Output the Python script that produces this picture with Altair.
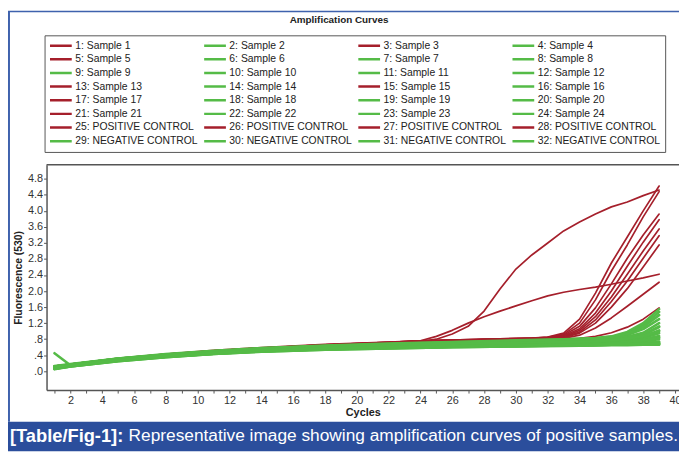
import altair as alt
import pandas as pd

# ---------------- data ----------------
GREEN_CYCLES = [1, 2, 5, 8, 11, 14, 18, 22, 26, 30, 33, 35, 36, 37, 38, 39]
RED_CYCLES = [1, 2, 5, 8, 11, 14, 18, 22, 24, 25, 26, 27, 28, 29, 30, 31, 32,
              33, 34, 35, 36, 37, 38, 39]

LABELS = [
    "1: Sample 1", "2: Sample 2", "3: Sample 3", "4: Sample 4",
    "5: Sample 5", "6: Sample 6", "7: Sample 7", "8: Sample 8",
    "9: Sample 9", "10: Sample 10", "11: Sample 11", "12: Sample 12",
    "13: Sample 13", "14: Sample 14", "15: Sample 15", "16: Sample 16",
    "17: Sample 17", "18: Sample 18", "19: Sample 19", "20: Sample 20",
    "21: Sample 21", "22: Sample 22", "23: Sample 23", "24: Sample 24",
    "25: POSITIVE CONTROL", "26: POSITIVE CONTROL", "27: POSITIVE CONTROL", "28: POSITIVE CONTROL",
    "29: NEGATIVE CONTROL", "30: NEGATIVE CONTROL", "31: NEGATIVE CONTROL", "32: NEGATIVE CONTROL",
]
GROUP = ["r", "g", "r", "g", "r", "g", "g", "g",
         "g", "g", "g", "g", "r", "g", "r", "g",
         "r", "g", "g", "g", "r", "g", "g", "g",
         "r", "r", "r", "r", "g", "g", "g", "g"]
# the legend fills column by column, so list sample numbers column-wise
LEGEND_ORDER = [1, 5, 9, 13, 17, 21, 25, 29,
                2, 6, 10, 14, 18, 22, 26, 30,
                3, 7, 11, 15, 19, 23, 27, 31,
                4, 8, 12, 16, 20, 24, 28, 32]
RED = "#a51f2b"
GREEN = "#55bb47"

# green (negative) curves, values at GREEN_CYCLES
S2 = [0.08, 0.14, 0.28, 0.38, 0.46, 0.52, 0.57, 0.61, 0.64, 0.67, 0.69, 0.71, 0.72, 0.74, 0.78, 0.85]
S4 = [0.10, 0.15, 0.29, 0.39, 0.47, 0.53, 0.58, 0.62, 0.65, 0.68, 0.70, 0.72, 0.74, 0.77, 0.83, 0.95]
S6 = [0.06, 0.13, 0.26, 0.36, 0.44, 0.50, 0.55, 0.58, 0.61, 0.63, 0.65, 0.66, 0.67, 0.68, 0.70, 0.72]
S7 = [0.12, 0.17, 0.31, 0.41, 0.49, 0.55, 0.60, 0.64, 0.67, 0.70, 0.72, 0.74, 0.76, 0.80, 0.90, 1.10]
S8 = [0.09, 0.15, 0.30, 0.40, 0.48, 0.54, 0.59, 0.63, 0.66, 0.69, 0.71, 0.73, 0.75, 0.78, 0.86, 1.02]
S9 = [0.05, 0.12, 0.25, 0.35, 0.43, 0.49, 0.54, 0.57, 0.60, 0.62, 0.64, 0.65, 0.66, 0.67, 0.68, 0.70]
S10 = [0.11, 0.16, 0.30, 0.40, 0.48, 0.55, 0.61, 0.66, 0.70, 0.74, 0.77, 0.80, 0.83, 0.90, 1.05, 1.30]
S11 = [0.13, 0.18, 0.32, 0.42, 0.50, 0.56, 0.62, 0.67, 0.71, 0.75, 0.78, 0.81, 0.85, 0.95, 1.15, 1.48]
S12 = [0.07, 0.13, 0.27, 0.37, 0.45, 0.51, 0.56, 0.60, 0.63, 0.65, 0.67, 0.69, 0.70, 0.72, 0.75, 0.80]
S14 = [0.10, 0.16, 0.31, 0.41, 0.49, 0.56, 0.62, 0.67, 0.71, 0.75, 0.78, 0.80, 0.82, 0.86, 0.96, 1.20]
S16 = [0.08, 0.14, 0.28, 0.38, 0.46, 0.52, 0.58, 0.62, 0.65, 0.68, 0.70, 0.72, 0.73, 0.75, 0.80, 0.88]
S18 = [0.12, 0.17, 0.32, 0.43, 0.51, 0.58, 0.64, 0.69, 0.73, 0.77, 0.80, 0.83, 0.87, 0.98, 1.20, 1.55]
S19 = [0.06, 0.12, 0.26, 0.36, 0.44, 0.50, 0.55, 0.59, 0.62, 0.64, 0.66, 0.67, 0.68, 0.69, 0.71, 0.74]
S20 = [0.09, 0.15, 0.29, 0.39, 0.47, 0.54, 0.60, 0.65, 0.69, 0.72, 0.75, 0.77, 0.79, 0.83, 0.92, 1.12]
S22 = [0.11, 0.17, 0.31, 0.41, 0.50, 0.57, 0.63, 0.68, 0.72, 0.76, 0.79, 0.82, 0.86, 0.93, 1.10, 1.40]
S23 = [0.07, 0.14, 0.27, 0.37, 0.45, 0.52, 0.57, 0.61, 0.64, 0.66, 0.68, 0.70, 0.71, 0.73, 0.77, 0.83]
S24 = [0.10, 0.16, 0.30, 0.40, 0.48, 0.55, 0.60, 0.64, 0.68, 0.71, 0.73, 0.75, 0.77, 0.81, 0.88, 1.00]
S29 = [0.45, 0.15, 0.27, 0.37, 0.45, 0.51, 0.56, 0.59, 0.62, 0.64, 0.65, 0.66, 0.66, 0.67, 0.67, 0.68]
S30 = [0.08, 0.13, 0.26, 0.36, 0.44, 0.50, 0.55, 0.58, 0.61, 0.63, 0.64, 0.65, 0.66, 0.66, 0.67, 0.67]
S31 = [0.06, 0.12, 0.25, 0.35, 0.43, 0.49, 0.54, 0.57, 0.60, 0.62, 0.63, 0.64, 0.65, 0.65, 0.66, 0.66]
S32 = [0.09, 0.14, 0.28, 0.38, 0.46, 0.52, 0.57, 0.60, 0.63, 0.65, 0.66, 0.67, 0.68, 0.68, 0.69, 0.69]

# red (positive) curves, values at RED_CYCLES
S1 = [0.13, 0.18, 0.31, 0.42, 0.50, 0.57, 0.64, 0.70, 0.74, 0.75, 0.76, 0.77, 0.78, 0.79, 0.80, 0.82, 0.85,
      0.95, 1.30, 1.95, 2.70, 3.35, 4.00, 4.62]
S3 = [0.12, 0.17, 0.31, 0.43, 0.51, 0.58, 0.66, 0.72, 0.76, 0.77, 0.78, 0.79, 0.80, 0.81, 0.82, 0.83, 0.85,
      0.90, 1.12, 1.58, 2.18, 2.82, 3.40, 3.92]
S5 = [0.11, 0.16, 0.30, 0.41, 0.50, 0.57, 0.64, 0.71, 0.75, 0.76, 0.77, 0.77, 0.78, 0.79, 0.80, 0.80, 0.81,
      0.82, 0.90, 1.08, 1.33, 1.62, 1.92, 2.22]
S13 = [0.12, 0.17, 0.30, 0.41, 0.50, 0.57, 0.65, 0.71, 0.74, 0.80, 0.93, 1.12, 1.50, 2.05, 2.55, 2.90, 3.20,
       3.50, 3.72, 3.92, 4.10, 4.22, 4.38, 4.52]
S15 = [0.13, 0.18, 0.32, 0.43, 0.52, 0.59, 0.67, 0.73, 0.76, 0.77, 0.78, 0.79, 0.80, 0.81, 0.82, 0.83, 0.84,
       0.86, 1.02, 1.36, 1.85, 2.42, 3.00, 3.55]
S17 = [0.12, 0.17, 0.31, 0.42, 0.51, 0.58, 0.66, 0.72, 0.76, 0.76, 0.77, 0.78, 0.78, 0.79, 0.79, 0.80, 0.80,
       0.80, 0.82, 0.87, 0.96, 1.10, 1.30, 1.58]
S21 = [0.11, 0.16, 0.31, 0.42, 0.51, 0.58, 0.66, 0.72, 0.76, 0.87, 1.02, 1.20, 1.36, 1.50, 1.63, 1.76, 1.88,
       1.97, 2.04, 2.10, 2.17, 2.25, 2.33, 2.42]
S25 = [0.10, 0.16, 0.30, 0.41, 0.49, 0.56, 0.64, 0.71, 0.75, 0.76, 0.77, 0.78, 0.79, 0.80, 0.81, 0.82, 0.84,
       0.92, 1.20, 1.78, 2.50, 3.15, 3.85, 4.48]
S26 = [0.11, 0.16, 0.29, 0.40, 0.49, 0.56, 0.63, 0.69, 0.73, 0.74, 0.75, 0.76, 0.77, 0.78, 0.79, 0.80, 0.82,
       0.88, 1.06, 1.45, 2.00, 2.62, 3.22, 3.78]
S27 = [0.12, 0.17, 0.30, 0.41, 0.50, 0.57, 0.65, 0.71, 0.75, 0.76, 0.77, 0.78, 0.79, 0.80, 0.81, 0.82, 0.83,
       0.85, 0.98, 1.28, 1.74, 2.25, 2.82, 3.38]
S28 = [0.10, 0.15, 0.29, 0.40, 0.48, 0.55, 0.63, 0.70, 0.74, 0.75, 0.76, 0.77, 0.78, 0.79, 0.80, 0.81, 0.82,
       0.84, 0.95, 1.20, 1.60, 2.06, 2.60, 3.15]

SERIES = {1: S1, 2: S2, 3: S3, 4: S4, 5: S5, 6: S6, 7: S7, 8: S8, 9: S9, 10: S10,
          11: S11, 12: S12, 13: S13, 14: S14, 15: S15, 16: S16, 17: S17, 18: S18,
          19: S19, 20: S20, 21: S21, 22: S22, 23: S23, 24: S24, 25: S25, 26: S26,
          27: S27, 28: S28, 29: S29, 30: S30, 31: S31, 32: S32}

Y_TICKS = [0.0, 0.4, 0.8, 1.2, 1.6, 2.0, 2.4, 2.8, 3.2, 3.6, 4.0, 4.4, 4.8]
X_TICKS = list(range(1, 41))

TITLE = "Amplification Curves"
CAP_BOLD = "[Table/Fig-1]:"
CAP_TEXT = "Representative image showing amplification curves of positive samples."

# ---------------- table ----------------
rows = []
for i, lab in enumerate(LABELS):
    grp = GROUP[i]
    cyc = RED_CYCLES if grp == "r" else GREEN_CYCLES
    for c, v in zip(cyc, SERIES[i + 1]):
        rows.append({"label": lab, "group": grp, "cycle": c, "value": v})
df = pd.DataFrame(rows)
DOMAIN = [LABELS[n - 1] for n in LEGEND_ORDER]
COLORS = [RED if GROUP[n - 1] == "r" else GREEN for n in LEGEND_ORDER]

# ---------------- chart ----------------
W, H = 640, 228
FONT = "Liberation Sans"
one = pd.DataFrame({"k": [0]})

xs = alt.Scale(domain=[0.5, 40.25], nice=False, zero=False)
ys = alt.Scale(domain=[-0.47, 5.15], nice=False, zero=False)
cs = alt.Scale(domain=DOMAIN, range=COLORS)

x_axis = alt.Axis(values=X_TICKS, labelExpr="datum.value % 2 == 0 ? datum.label : ''",
                  tickSize=3, tickColor="#555", domainColor="#555", domainWidth=1.5,
                  labelFontSize=11, labelColor="#333", labelFont=FONT, labelFlush=False,
                  labelOverlap=False, labelPadding=2, grid=False,
                  title="Cycles", titleFont=FONT, titleFontSize=11, titleFontWeight="bold",
                  titleColor="#222", titlePadding=1)
y_axis = alt.Axis(values=Y_TICKS,
                  labelExpr="datum.value < 1 ? replace(format(datum.value, '.1f'), '0.', '.') : format(datum.value, '.1f')",
                  tickSize=3, tickColor="#555", domainColor="#555", domainWidth=1.5,
                  labelFontSize=11, labelColor="#333", labelFont=FONT, labelFlush=False,
                  labelOverlap=False, labelPadding=1, grid=False,
                  title="Fluorescence (530)", titleFont=FONT, titleFontSize=10.5,
                  titleFontWeight="bold", titleColor="#222", titlePadding=4)
legend = alt.Legend(title=None, orient="none", legendX=-2, legendY=-131, columns=4,
                    symbolType="stroke", symbolSize=484, symbolStrokeWidth=2.5,
                    labelFont=FONT, labelFontSize=10.5, labelColor="#222", labelOffset=2,
                    clipHeight=13, columnPadding=4, rowPadding=0.8, padding=4,
                    strokeColor="#555", fillColor="white", gridAlign="all",
                    symbolLimit=40, labelLimit=300)

def lines(grp, width):
    return alt.Chart(df).transform_filter(alt.datum.group == grp).mark_line(
        strokeWidth=width, strokeJoin="round", strokeCap="round").encode(
        x=alt.X("cycle:Q", scale=xs, axis=x_axis),
        y=alt.Y("value:Q", scale=ys, axis=y_axis),
        color=alt.Color("label:N", scale=cs, legend=legend),
        detail="label:N",
    )

red_lines = lines("r", 1.7)
green_lines = lines("g", 2.6)

band = alt.Chart(one).mark_rect(color="#2b4e9c").encode(
    x=alt.value(-39), x2=alt.value(W), y=alt.value(260), y2=alt.value(290))
border_top = alt.Chart(one).mark_rule(color="#3f62ad", strokeWidth=1.5).encode(
    x=alt.value(-39), x2=alt.value(W), y=alt.value(-155))
border_left = alt.Chart(one).mark_rule(color="#3f62ad", strokeWidth=2).encode(
    x=alt.value(-38), y=alt.value(-155), y2=alt.value(260))
frame_top = alt.Chart(one).mark_rule(color="#555", strokeWidth=1.5).encode(
    x=alt.value(0), x2=alt.value(W), y=alt.value(0))
title = alt.Chart(one).mark_text(font=FONT, fontSize=10, fontWeight="bold", color="#222",
                                 align="center", baseline="middle").encode(
    x=alt.value(296), y=alt.value(-146), text=alt.value(TITLE))
cap1 = alt.Chart(one).mark_text(font=FONT, fontSize=18.5, fontWeight="bold", color="white",
                                align="left", baseline="middle").encode(
    x=alt.value(-37), y=alt.value(275), text=alt.value(CAP_BOLD))
cap2 = alt.Chart(one).mark_text(font=FONT, fontSize=17.5, color="white",
                                align="left", baseline="middle").encode(
    x=alt.value(83), y=alt.value(275), text=alt.value(CAP_TEXT))

chart = alt.layer(band, border_top, border_left, red_lines, green_lines, frame_top,
                  title, cap1, cap2).properties(
    width=W, height=H,
    padding={"left": 39, "top": 156, "right": 0, "bottom": 60},
    autosize=alt.AutoSizeParams(type="none"),
    background="white",
).configure_view(stroke=None)

chart.save("out.html", embed_options={"renderer": "svg", "actions": False})
